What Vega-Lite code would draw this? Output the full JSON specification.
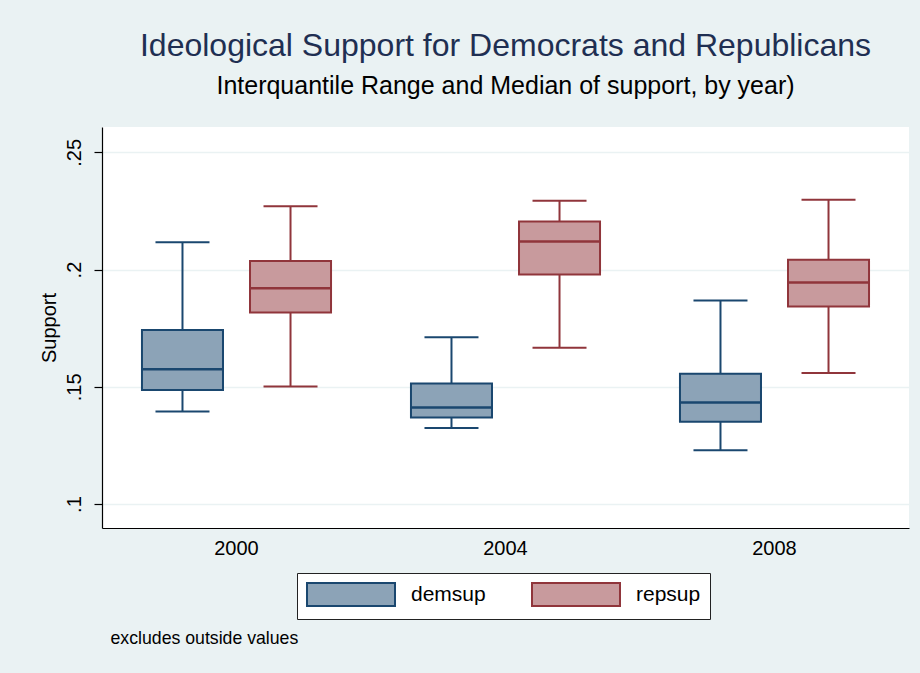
{
  "$schema": "https://vega.github.io/schema/vega-lite/v6.json",
  "width": 807,
  "height": 401,
  "autosize": {"type": "none"},
  "padding": {"left": 102, "top": 127, "right": 11, "bottom": 145},
  "background": "#eaf2f3",
  "config": {
    "view": {"fill": "white", "stroke": null},
    "font": "Liberation Sans"
  },
  "title": {
    "text": "Ideological Support for Democrats and Republicans",
    "subtitle": "Interquantile Range and Median of support, by year)",
    "anchor": "middle",
    "frame": "group",
    "font": "Liberation Sans",
    "fontSize": 32,
    "fontWeight": "normal",
    "color": "#1f2f52",
    "subtitleFont": "Liberation Sans",
    "subtitleFontSize": 25,
    "subtitleColor": "black",
    "subtitlePadding": 11,
    "offset": 27.5
  },
  "data": {
    "values": [
      {"year": "2000", "series": "demsup", "lower": 0.1395, "q1": 0.1487, "median": 0.1575, "q3": 0.1742, "upper": 0.2117},
      {"year": "2000", "series": "repsup", "lower": 0.1501, "q1": 0.1817, "median": 0.1920, "q3": 0.2037, "upper": 0.2270},
      {"year": "2004", "series": "demsup", "lower": 0.1324, "q1": 0.1369, "median": 0.1412, "q3": 0.1514, "upper": 0.1711},
      {"year": "2004", "series": "repsup", "lower": 0.1667, "q1": 0.1979, "median": 0.2120, "q3": 0.2205, "upper": 0.2294},
      {"year": "2008", "series": "demsup", "lower": 0.1230, "q1": 0.1351, "median": 0.1433, "q3": 0.1556, "upper": 0.1868},
      {"year": "2008", "series": "repsup", "lower": 0.1559, "q1": 0.1843, "median": 0.1945, "q3": 0.2042, "upper": 0.2298}
    ]
  },
  "encoding": {
    "x": {
      "field": "year",
      "type": "nominal",
      "scale": {"paddingInner": 0, "paddingOuter": 0},
      "axis": {
        "title": "excludes outside values",
        "titleX": 8,
        "titleY": 115.5,
        "titleAlign": "left",
        "titleBaseline": "alphabetic",
        "titleFontSize": 17.7,
        "titleFontWeight": "normal",
        "titleColor": "black",
        "labelAngle": 0,
        "labelFontSize": 20,
        "labelColor": "black",
        "labelPadding": 10,
        "ticks": false,
        "tickSize": 0,
        "domainColor": "black",
        "domainWidth": 1.2,
        "grid": false
      }
    },
    "xOffset": {
      "field": "series",
      "type": "nominal",
      "scale": {"paddingInner": 0.25, "paddingOuter": 0.37}
    }
  },
  "layer": [
    {
      "mark": {"type": "rule", "strokeWidth": 2},
      "encoding": {
        "y": {
          "field": "lower",
          "type": "quantitative",
          "scale": {"domain": [0.0898, 0.2608], "zero": false, "nice": false},
          "axis": {
            "values": [0.1, 0.15, 0.2, 0.25],
            "labelExpr": "substring(format(datum.value, '~g'), 1)",
            "labelAngle": -90,
            "labelAlign": "center",
            "labelBaseline": "alphabetic",
            "labelFontSize": 20,
            "labelColor": "black",
            "labelPadding": 14,
            "tickSize": 8,
            "tickColor": "black",
            "tickWidth": 1.2,
            "domainColor": "black",
            "domainWidth": 1.2,
            "grid": true,
            "gridColor": "#eaf2f3",
            "gridWidth": 1.5,
            "title": "Support",
            "titleFontSize": 20,
            "titleFontWeight": "normal",
            "titleColor": "black",
            "titleAngle": -90,
            "titleX": -47,
            "titleY": 200.5,
            "titleAlign": "center",
            "titleBaseline": "alphabetic"
          }
        },
        "y2": {"field": "upper"},
        "color": {
          "field": "series",
          "type": "nominal",
          "scale": {"range": ["#1a476f", "#90353b"]},
          "legend": null
        }
      }
    },
    {
      "mark": {"type": "bar", "strokeWidth": 2, "opacity": 1},
      "encoding": {
        "y": {"field": "q1", "type": "quantitative"},
        "y2": {"field": "q3"},
        "fill": {
          "field": "series",
          "type": "nominal",
          "scale": {"domain": ["demsup", "repsup"], "range": ["#8ca3b7", "#c89a9d"]},
          "legend": {
            "title": null,
            "orient": "none",
            "legendX": 195,
            "legendY": 446,
            "direction": "horizontal",
            "columns": 2,
            "symbolType": "M-3.826,-1L3.826,-1L3.826,1L-3.826,1Z",
            "symbolSize": 529,
            "symbolOffset": 32.5,
            "symbolStrokeWidth": 2,
            "symbolOpacity": 1,
            "labelFontSize": 21,
            "labelColor": "black",
            "labelOffset": 47.5,
            "columnPadding": 42,
            "padding": 9,
            "strokeColor": "#222222",
            "fillColor": "white"
          }
        },
        "stroke": {
          "field": "series",
          "type": "nominal",
          "scale": {"domain": ["demsup", "repsup"], "range": ["#1a476f", "#90353b"]},
          "legend": {
            "title": null,
            "orient": "none",
            "legendX": 195,
            "legendY": 446,
            "direction": "horizontal",
            "columns": 2,
            "symbolType": "M-3.826,-1L3.826,-1L3.826,1L-3.826,1Z",
            "symbolSize": 529,
            "symbolOffset": 32.5,
            "symbolStrokeWidth": 2,
            "symbolOpacity": 1,
            "labelFontSize": 21,
            "labelColor": "black",
            "labelOffset": 47.5,
            "columnPadding": 42,
            "padding": 9,
            "strokeColor": "#222222",
            "fillColor": "white"
          }
        }
      }
    },
    {
      "mark": {"type": "tick", "size": 81, "thickness": 2.5, "opacity": 1},
      "encoding": {
        "y": {"field": "median", "type": "quantitative"},
        "color": {"field": "series", "type": "nominal", "legend": null}
      }
    },
    {
      "mark": {"type": "tick", "size": 54, "thickness": 2, "opacity": 1},
      "encoding": {
        "y": {"field": "lower", "type": "quantitative"},
        "color": {"field": "series", "type": "nominal", "legend": null}
      }
    },
    {
      "mark": {"type": "tick", "size": 54, "thickness": 2, "opacity": 1},
      "encoding": {
        "y": {"field": "upper", "type": "quantitative"},
        "color": {"field": "series", "type": "nominal", "legend": null}
      }
    }
  ]
}
